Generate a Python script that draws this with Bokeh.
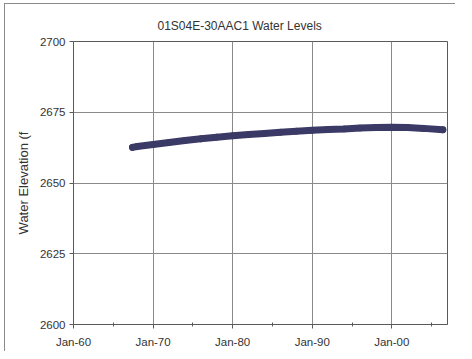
import pandas as pd
from bokeh.plotting import figure
from bokeh.models import FixedTicker, DatetimeTickFormatter, Range1d
from bokeh.embed import file_html
from bokeh.resources import INLINE

title = "01S04E-30AAC1 Water Levels"
y_label = "Water Elevation (f"

dates = ["1967-06-01", "1968-01-01", "1970-01-01", "1972-01-01", "1974-01-01",
         "1976-01-01", "1978-01-01", "1980-01-01", "1982-01-01", "1984-01-01",
         "1986-01-01", "1988-01-01", "1990-01-01", "1992-01-01", "1994-01-01",
         "1996-01-01", "1998-01-01", "2000-01-01", "2002-01-01", "2004-01-01",
         "2006-06-01"]
levels = [2662.6, 2662.9, 2663.6, 2664.3, 2665.0,
          2665.6, 2666.2, 2666.7, 2667.1, 2667.5,
          2667.9, 2668.3, 2668.6, 2668.9, 2669.1,
          2669.4, 2669.6, 2669.7, 2669.6, 2669.3,
          2668.8]

major_years = ["1960-01-01", "1970-01-01", "1980-01-01", "1990-01-01", "2000-01-01"]
minor_years = ["1965-01-01", "1975-01-01", "1985-01-01", "1995-01-01", "2005-01-01"]
y_ticks = [2600, 2625, 2650, 2675, 2700]
x_start, x_end = "1960-01-01", "2007-01-01"
y_start, y_end = 2600, 2700

def ms(s):
    return pd.Timestamp(s).value / 1e6

x = pd.to_datetime(dates)

p = figure(width=451, height=348, x_axis_type="datetime",
           output_backend="svg", toolbar_location=None,
           x_range=Range1d(ms(x_start), ms(x_end)),
           y_range=Range1d(y_start, y_end),
           min_border_left=68, min_border_right=9,
           min_border_top=37, min_border_bottom=28)
# chart-area border: only left and top edges are visible in the (cropped) original
p.styles = {"margin-left": "4px", "margin-top": "3px",
            "border-left": "1px solid #8a8a8a", "border-top": "1px solid #8a8a8a"}

p.title.text = title
p.title.align = "left"
p.title.text_font = "Liberation Sans"
p.title.text_font_size = "12px"
p.title.text_font_style = "normal"
p.title.text_color = "#333333"
p.title.offset = 84
p.title.standoff = 17

p.background_fill_color = "white"
p.border_fill_color = "white"
p.outline_line_color = "#5a5a5a"
p.outline_line_width = 1

p.line(x, levels, line_color="#3b3a66", line_width=7, line_cap="round")
p.scatter(x, levels, size=6, color="#3b3a66")

p.xaxis.ticker = FixedTicker(ticks=[ms(d) for d in major_years],
                             minor_ticks=[ms(d) for d in minor_years])
fmt = "%b-%y"
p.xaxis.formatter = DatetimeTickFormatter(years=fmt, months=fmt, days=fmt,
                                          hours=fmt, minutes=fmt, seconds=fmt,
                                          milliseconds=fmt, microseconds=fmt,
                                          hourmin=fmt, minsec=fmt)
p.yaxis.ticker = FixedTicker(ticks=y_ticks)

for ax in (p.xaxis, p.yaxis):
    ax.axis_line_color = "#5a5a5a"
    ax.major_tick_line_color = "#5a5a5a"
    ax.minor_tick_line_color = "#5a5a5a"
    ax.major_tick_out = 4
    ax.major_tick_in = 0
    ax.major_label_text_font = "Liberation Sans"
    ax.major_label_text_font_size = "11.5px"
    ax.major_label_text_color = "#333333"
p.xaxis.major_label_standoff = 7
p.yaxis.major_label_standoff = 4
p.xaxis.minor_tick_out = 2
p.xaxis.minor_tick_in = 2
p.yaxis.minor_tick_line_color = None

p.yaxis.axis_label = y_label
p.yaxis.axis_label_text_font = "Liberation Sans"
p.yaxis.axis_label_text_font_size = "13px"
p.yaxis.axis_label_text_font_style = "normal"
p.yaxis.axis_label_text_color = "#333333"
p.yaxis.axis_label_standoff = 6

p.xgrid.ticker = FixedTicker(ticks=[ms(d) for d in major_years])
p.ygrid.ticker = FixedTicker(ticks=y_ticks)
p.grid.grid_line_color = "#8a8a8a"
p.grid.grid_line_width = 1

open("out.html", "w").write(file_html(p, INLINE))
